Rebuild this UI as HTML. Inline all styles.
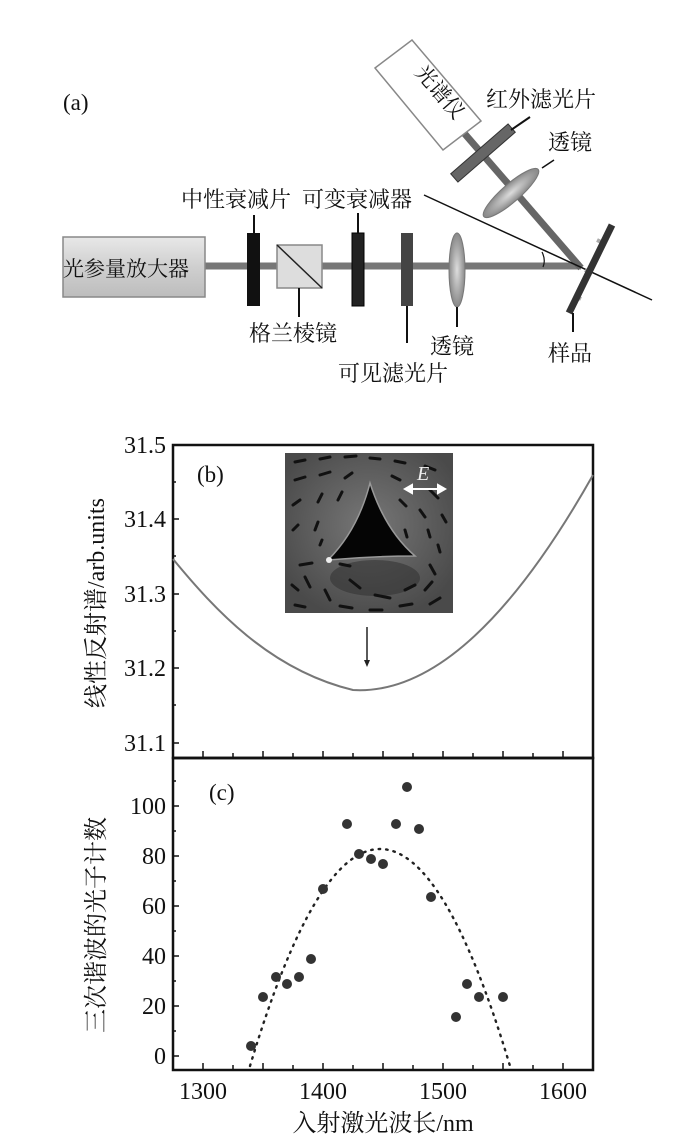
<!DOCTYPE html>
<html><head><meta charset="utf-8"><style>
html,body{margin:0;padding:0;background:#fff}
svg{display:block}
text{font-family:"Liberation Serif","Noto Serif CJK SC",serif;fill:#111}
.cn{font-family:"Noto Serif CJK SC","Noto Sans CJK SC",serif}
</style></head><body>
<svg width="700" height="1138" viewBox="0 0 700 1138" xmlns="http://www.w3.org/2000/svg">
<defs>
<linearGradient id="bx" x1="0" y1="0" x2="0" y2="1"><stop offset="0" stop-color="#e8e8e8"/><stop offset="0.5" stop-color="#cfcfcf"/><stop offset="1" stop-color="#bdbdbd"/></linearGradient>
<radialGradient id="ln" cx="0.5" cy="0.5" r="0.5"><stop offset="0" stop-color="#ddd"/><stop offset="1" stop-color="#888"/></radialGradient>
<radialGradient id="ins" cx="0.5" cy="0.45" r="0.6"><stop offset="0" stop-color="#777"/><stop offset="1" stop-color="#4a4a4a"/></radialGradient>
</defs>
<!-- Panel a -->
<text x="63" y="110" font-size="23">(a)</text>
<line x1="205" y1="266" x2="581" y2="266" stroke="#777" stroke-width="7"/>
<line x1="581" y1="268" x2="464" y2="133" stroke="#666" stroke-width="7"/>
<rect x="63" y="237" width="142" height="60" fill="url(#bx)" stroke="#888" stroke-width="1.5"/>
<text x="63" y="276" font-size="21" class="cn">光参量放大器</text>
<rect x="247" y="233" width="13" height="73" fill="#111"/>
<line x1="254" y1="215" x2="254" y2="233" stroke="#111" stroke-width="2"/>
<rect x="277" y="245" width="45" height="43" fill="#ddd" stroke="#888" stroke-width="1.5"/>
<line x1="277" y1="245" x2="322" y2="288" stroke="#222" stroke-width="1.5"/>
<line x1="299" y1="288" x2="299" y2="317" stroke="#111" stroke-width="2"/>
<rect x="352" y="233" width="12" height="73" fill="#222" stroke="#000"/>
<line x1="358" y1="213" x2="358" y2="233" stroke="#111" stroke-width="2"/>
<rect x="401" y="233" width="12" height="73" fill="#444"/>
<line x1="407" y1="306" x2="407" y2="343" stroke="#111" stroke-width="2"/>
<ellipse cx="457" cy="270" rx="8" ry="37" fill="url(#ln)" stroke="#777"/>
<line x1="457" y1="307" x2="457" y2="327" stroke="#111" stroke-width="2"/>
<line x1="424" y1="195" x2="652" y2="300" stroke="#111" stroke-width="1.5"/>
<path d="M542,252 Q546,260 543,267" fill="none" stroke="#111" stroke-width="1.2"/>
<g stroke="#aaa" stroke-width="4"><line x1="597" y1="240" x2="603" y2="243"/><line x1="585" y1="270" x2="591" y2="273"/><line x1="575" y1="296" x2="581" y2="299"/></g>
<line x1="612" y1="225" x2="569" y2="313" stroke="#333" stroke-width="7"/>
<line x1="573" y1="313" x2="573" y2="332" stroke="#111" stroke-width="2"/>
<g transform="translate(511,193) rotate(-41)"><ellipse cx="0" cy="0" rx="36" ry="9" fill="url(#ln)" stroke="#777"/></g>
<g transform="translate(483,153) rotate(-41)"><rect x="-38" y="-5.5" width="76" height="11" fill="#666" stroke="#333"/></g>
<line x1="511" y1="130" x2="530" y2="117" stroke="#111" stroke-width="2"/>
<line x1="542" y1="168" x2="554" y2="160" stroke="#111" stroke-width="1.5"/>
<polygon points="375,68 412,40 481,121 443,150" fill="#fff" stroke="#888" stroke-width="1.5"/>
<text x="0" y="0" font-size="21" class="cn" transform="translate(414,73) rotate(49)">光谱仪</text>
<text x="486" y="107" font-size="22" class="cn">红外滤光片</text>
<text x="548" y="150" font-size="22" class="cn">透镜</text>
<text x="181" y="207" font-size="22" class="cn">中性衰减片</text>
<text x="302" y="207" font-size="22" class="cn">可变衰减器</text>
<text x="249" y="341" font-size="22" class="cn">格兰棱镜</text>
<text x="430" y="354" font-size="22" class="cn">透镜</text>
<text x="338" y="381" font-size="22" class="cn">可见滤光片</text>
<text x="548" y="361" font-size="22" class="cn">样品</text>

<!-- Panel b -->
<rect x="173" y="445" width="420" height="313" fill="none" stroke="#111" stroke-width="2.5"/>
<line x1="173" y1="758" x2="593" y2="758" stroke="#111" stroke-width="2.5"/>
<g stroke="#111" stroke-width="1.5">
<line x1="203" y1="758" x2="203" y2="751"/><line x1="233" y1="758" x2="233" y2="753"/><line x1="263" y1="758" x2="263" y2="751"/><line x1="293" y1="758" x2="293" y2="753"/><line x1="323" y1="758" x2="323" y2="751"/><line x1="353" y1="758" x2="353" y2="753"/><line x1="383" y1="758" x2="383" y2="751"/><line x1="413" y1="758" x2="413" y2="753"/><line x1="443" y1="758" x2="443" y2="751"/><line x1="473" y1="758" x2="473" y2="753"/><line x1="503" y1="758" x2="503" y2="751"/><line x1="533" y1="758" x2="533" y2="753"/><line x1="563" y1="758" x2="563" y2="751"/>
<line x1="173" y1="519" x2="179" y2="519"/><line x1="173" y1="594" x2="179" y2="594"/><line x1="173" y1="668" x2="179" y2="668"/><line x1="173" y1="743" x2="179" y2="743"/>
<line x1="173" y1="482" x2="176" y2="482"/><line x1="173" y1="556" x2="176" y2="556"/><line x1="173" y1="631" x2="176" y2="631"/><line x1="173" y1="705" x2="176" y2="705"/>
</g>
<g font-size="24" text-anchor="end">
<text x="166" y="453">31.5</text><text x="166" y="527">31.4</text><text x="166" y="602">31.3</text><text x="166" y="676">31.2</text><text x="166" y="751">31.1</text>
</g>
<path d="M173,559 C215,610 270,670 353,690 C420,694 500,640 593,475" fill="none" stroke="#777" stroke-width="2"/>
<text x="197" y="482" font-size="23">(b)</text>
<rect x="285" y="453" width="168" height="160" fill="url(#ins)"/>
<ellipse cx="375" cy="578" rx="45" ry="18" fill="#333" opacity="0.6"/>
<g stroke="#111" stroke-width="3" stroke-linecap="round">
<line x1="295" y1="462" x2="305" y2="460"/><line x1="320" y1="459" x2="330" y2="457"/><line x1="345" y1="457" x2="356" y2="456"/><line x1="370" y1="458" x2="380" y2="459"/><line x1="395" y1="461" x2="405" y2="463"/><line x1="425" y1="466" x2="435" y2="470"/>
<line x1="295" y1="480" x2="305" y2="477"/><line x1="320" y1="475" x2="330" y2="472"/><line x1="345" y1="478" x2="352" y2="473"/><line x1="392" y1="476" x2="400" y2="480"/><line x1="430" y1="490" x2="438" y2="498"/>
<line x1="293" y1="505" x2="300" y2="500"/><line x1="318" y1="502" x2="322" y2="494"/><line x1="338" y1="500" x2="342" y2="492"/><line x1="400" y1="500" x2="406" y2="506"/><line x1="420" y1="510" x2="425" y2="517"/><line x1="442" y1="515" x2="446" y2="522"/>
<line x1="293" y1="530" x2="298" y2="525"/><line x1="315" y1="530" x2="318" y2="522"/><line x1="320" y1="545" x2="322" y2="540"/><line x1="405" y1="530" x2="407" y2="537"/><line x1="428" y1="530" x2="430" y2="537"/><line x1="438" y1="545" x2="440" y2="552"/>
<line x1="300" y1="565" x2="312" y2="563"/><line x1="340" y1="564" x2="350" y2="566"/><line x1="430" y1="565" x2="435" y2="574"/>
<line x1="292" y1="585" x2="298" y2="590"/><line x1="305" y1="577" x2="310" y2="587"/><line x1="325" y1="590" x2="330" y2="600"/><line x1="350" y1="580" x2="360" y2="588"/><line x1="375" y1="595" x2="390" y2="598"/><line x1="405" y1="590" x2="415" y2="585"/><line x1="425" y1="590" x2="432" y2="582"/>
<line x1="295" y1="605" x2="305" y2="607"/><line x1="340" y1="606" x2="352" y2="608"/><line x1="370" y1="610" x2="382" y2="610"/><line x1="400" y1="606" x2="412" y2="604"/><line x1="430" y1="604" x2="440" y2="598"/>
</g>
<path d="M370,483 Q358,530 328,560 Q372,556 415,556 Q385,530 370,483 Z" fill="#050505" stroke="#999" stroke-width="1.5"/>
<circle cx="329" cy="560" r="3" fill="#eee"/>
<text x="417" y="480" font-size="20" font-style="italic" style="fill:#eee">E</text>
<g stroke="#fff" stroke-width="2" fill="#fff"><line x1="410" y1="489" x2="440" y2="489"/><polygon points="405,489 412,485 412,493"/><polygon points="445,489 438,485 438,493"/></g>
<line x1="367" y1="627" x2="367" y2="662" stroke="#222" stroke-width="1.5"/>
<polygon points="364,660 370,660 367,667" fill="#222"/>
<text font-size="24" transform="translate(104,603) rotate(-90)" text-anchor="middle"><tspan class="cn">线性反射谱</tspan><tspan>/arb.units</tspan></text>

<!-- Panel c -->
<rect x="173" y="758" width="420" height="312" fill="none" stroke="#111" stroke-width="2.5"/>
<g stroke="#111" stroke-width="1.5">
<line x1="203" y1="1070" x2="203" y2="1063"/><line x1="233" y1="1070" x2="233" y2="1065"/><line x1="263" y1="1070" x2="263" y2="1063"/><line x1="293" y1="1070" x2="293" y2="1065"/><line x1="323" y1="1070" x2="323" y2="1063"/><line x1="353" y1="1070" x2="353" y2="1065"/><line x1="383" y1="1070" x2="383" y2="1063"/><line x1="413" y1="1070" x2="413" y2="1065"/><line x1="443" y1="1070" x2="443" y2="1063"/><line x1="473" y1="1070" x2="473" y2="1065"/><line x1="503" y1="1070" x2="503" y2="1063"/><line x1="533" y1="1070" x2="533" y2="1065"/><line x1="563" y1="1070" x2="563" y2="1063"/>
<line x1="173" y1="806" x2="179" y2="806"/><line x1="173" y1="856" x2="179" y2="856"/><line x1="173" y1="906" x2="179" y2="906"/><line x1="173" y1="956" x2="179" y2="956"/><line x1="173" y1="1006" x2="179" y2="1006"/><line x1="173" y1="1056" x2="179" y2="1056"/>
<line x1="173" y1="781" x2="176" y2="781"/><line x1="173" y1="831" x2="176" y2="831"/><line x1="173" y1="881" x2="176" y2="881"/><line x1="173" y1="931" x2="176" y2="931"/><line x1="173" y1="981" x2="176" y2="981"/><line x1="173" y1="1031" x2="176" y2="1031"/>
</g>
<g font-size="24" text-anchor="end">
<text x="166" y="814">100</text><text x="166" y="864">80</text><text x="166" y="914">60</text><text x="166" y="964">40</text><text x="166" y="1014">20</text><text x="166" y="1064">0</text>
</g>
<text x="209" y="800" font-size="23">(c)</text>
<path d="M250,1066 Q380,632 510,1066" fill="none" stroke="#222" stroke-width="2.4" stroke-dasharray="1.5,6" stroke-linecap="round"/>
<g fill="#333">
<circle cx="251" cy="1046" r="5"/><circle cx="263" cy="997" r="5"/><circle cx="276" cy="977" r="5"/><circle cx="287" cy="984" r="5"/><circle cx="299" cy="977" r="5"/><circle cx="311" cy="959" r="5"/><circle cx="323" cy="889" r="5"/><circle cx="347" cy="824" r="5"/><circle cx="359" cy="854" r="5"/><circle cx="371" cy="859" r="5"/><circle cx="383" cy="864" r="5"/><circle cx="396" cy="824" r="5"/><circle cx="407" cy="787" r="5"/><circle cx="419" cy="829" r="5"/><circle cx="431" cy="897" r="5"/><circle cx="456" cy="1017" r="5"/><circle cx="467" cy="984" r="5"/><circle cx="479" cy="997" r="5"/><circle cx="503" cy="997" r="5"/>
</g>
<g font-size="24" text-anchor="middle">
<text x="203" y="1099">1300</text><text x="323" y="1099">1400</text><text x="443" y="1099">1500</text><text x="563" y="1099">1600</text>
</g>
<text x="383" y="1131" font-size="24" text-anchor="middle"><tspan class="cn">入射激光波长</tspan><tspan>/nm</tspan></text>
<text class="cn" font-size="24" transform="translate(104,925) rotate(-90)" text-anchor="middle">三次谐波的光子计数</text>
</svg>
</body></html>
